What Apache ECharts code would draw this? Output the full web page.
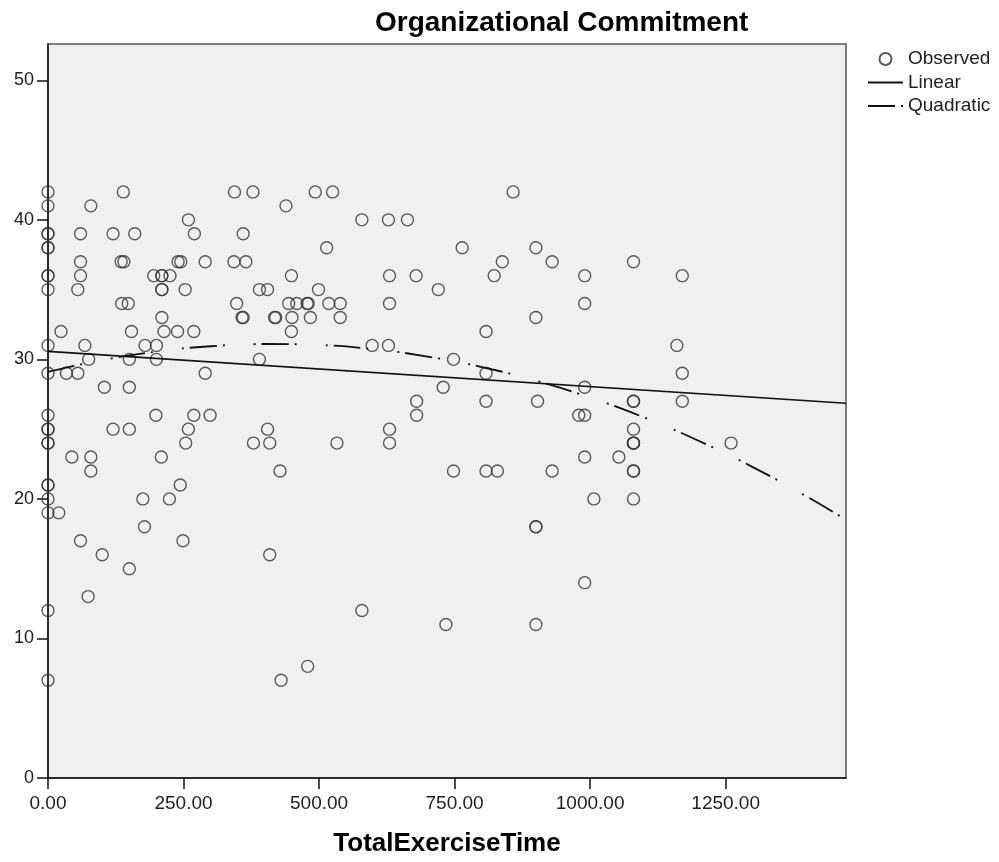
<!DOCTYPE html>
<html>
<head>
<meta charset="utf-8">
<script src="https://cdn.jsdelivr.net/npm/echarts@6/dist/echarts.min.js"></script>
<style>
html,body{margin:0;padding:0;background:#fff;}
#chart{width:999px;height:862px;}
</style>
</head>
<body>
<div id="chart"></div>
<script>
// Observed scores (Organizational Commitment) and the exercise times at each score
var scoreLevels = [42,41,40,39,38,37,36,35,34,33,32,31,30,29,28,27,26,25,24,23,22,21,20,19,18,17,16,15,14,13,12,11,8,7];
var timesAtScore = [
  [0,139,344,378,493,525,858],
  [0,79,439],
  [259,579,628,663],
  [0,0,60,120,160,270,360],
  [0,0,514,764,900],
  [60,135,140,240,245,290,343,365,838,930,1080],
  [0,0,60,195,210,210,225,449,630,679,823,990,1170],
  [0,55,210,210,253,390,405,499,720],
  [136,148,348,444,459,478,480,518,539,630,990],
  [210,358,360,418,420,450,484,539,900],
  [24,154,214,239,269,449,808],
  [0,68,179,200,598,628,1160],
  [75,150,200,390,748],
  [0,34,55,290,808,1170],
  [104,150,729,990],
  [680,808,903,1080,1080,1170],
  [0,199,269,299,680,979,990],
  [0,0,120,150,259,405,630,1080],
  [0,0,254,379,409,533,630,1080,1080,1080,1260],
  [44,79,209,990,1053],
  [79,428,748,808,829,930,1080,1080],
  [0,0,244],
  [0,175,224,1007,1080],
  [0,20],
  [178,900,900],
  [60,249],
  [100,409],
  [150],
  [990],
  [74],
  [0,579],
  [734,900],
  [479],
  [0,430]
];
// Fitted lines
var linTime = [0, 1472];
var linScore = [30.57, 26.86];
var quadTime = [0,100,200,300,400,500,600,700,800,900,1000,1100,1200,1300,1400,1472];
var quadScore = [29.10,29.94,30.56,30.94,31.10,31.03,30.73,30.20,29.45,28.47,27.26,25.83,24.17,22.28,20.16,18.50];
// Axes
var xTicks = [0,250,500,750,1000,1250];
var yTicks = [0,10,20,30,40,50];
var xMax = 1472, yMax = 52.6;

var observed = [];
for (var i = 0; i < scoreLevels.length; i++) {
  for (var j = 0; j < timesAtScore[i].length; j++) observed.push([timesAtScore[i][j], scoreLevels[i]]);
}
function pairs(xs, ys){ var r=[]; for (var k=0;k<xs.length;k++) r.push([xs[k], ys[k]]); return r; }

var FONT = "'Liberation Sans', Arial, sans-serif";
var hiddenSymbol = {color: 'rgba(0,0,0,0)', borderColor: 'rgba(0,0,0,0)', borderWidth: 0, opacity: 0};
var chart = echarts.init(document.getElementById('chart'), null, {renderer:'canvas'});
chart.setOption({
  animation: false,
  backgroundColor: '#ffffff',
  title: {
    text: 'Organizational Commitment',
    left: 375, top: 9, padding: 0,
    textStyle: {fontFamily: FONT, fontSize: 28, fontWeight: 'bold', color: '#000'}
  },
  legend: {
    orient: 'vertical', left: 867, top: 48, padding: 0,
    itemWidth: 35, itemHeight: 12, itemGap: 1.5,
    textStyle: {fontFamily: FONT, fontSize: 19, color: '#222', lineHeight: 22},
    data: [
      {name: 'Observed'},
      {name: 'Linear', itemStyle: hiddenSymbol},
      {name: 'Quadratic', itemStyle: hiddenSymbol}
    ]
  },
  grid: {
    left: 48, right: 153, top: 44, bottom: 83,
    show: true, backgroundColor: '#f0f0f0', borderColor: '#555', borderWidth: 1.5
  },
  xAxis: {
    type: 'value', min: 0, max: xMax,
    name: 'TotalExerciseTime', nameLocation: 'middle', nameGap: 53,
    nameTextStyle: {fontFamily: FONT, fontSize: 26, fontWeight: 'bold', color: '#000'},
    axisLine: {show: true, onZero: false, lineStyle: {color: '#111', width: 1.5}},
    axisTick: {show: true, length: 11, customValues: xTicks, lineStyle: {color: '#111', width: 1.5}},
    axisLabel: {customValues: xTicks, margin: 16, fontFamily: FONT, fontSize: 19, color: '#222',
      formatter: function(v){ return v.toFixed(2); }},
    splitLine: {show: false}
  },
  yAxis: {
    type: 'value', min: 0, max: yMax,
    axisLine: {show: true, onZero: false, lineStyle: {color: '#111', width: 1.5}},
    axisTick: {show: true, length: 11, customValues: yTicks, lineStyle: {color: '#111', width: 1.5}},
    axisLabel: {customValues: yTicks, margin: 14, fontFamily: FONT, fontSize: 18, color: '#222'},
    splitLine: {show: false}
  },
  series: [
    {
      name: 'Observed', type: 'scatter', data: observed,
      symbol: 'circle', symbolSize: 12,
      itemStyle: {color: 'rgba(0,0,0,0)', borderColor: '#333', borderWidth: 1.4},
      z: 2
    },
    {
      name: 'Linear', type: 'line', data: pairs(linTime, linScore),
      symbol: 'none', lineStyle: {color: '#111', width: 1.6, type: 'solid'},
      itemStyle: {color: '#111'}, z: 3
    },
    {
      name: 'Quadratic', type: 'line', data: pairs(quadTime, quadScore), smooth: true,
      symbol: 'none',
      lineStyle: {color: '#111', width: 1.8, type: [27, 6, 2, 29, 2, 6], dashOffset: 0},
      itemStyle: {color: '#111'}, z: 3
    }
  ]
});
</script>
</body>
</html>
